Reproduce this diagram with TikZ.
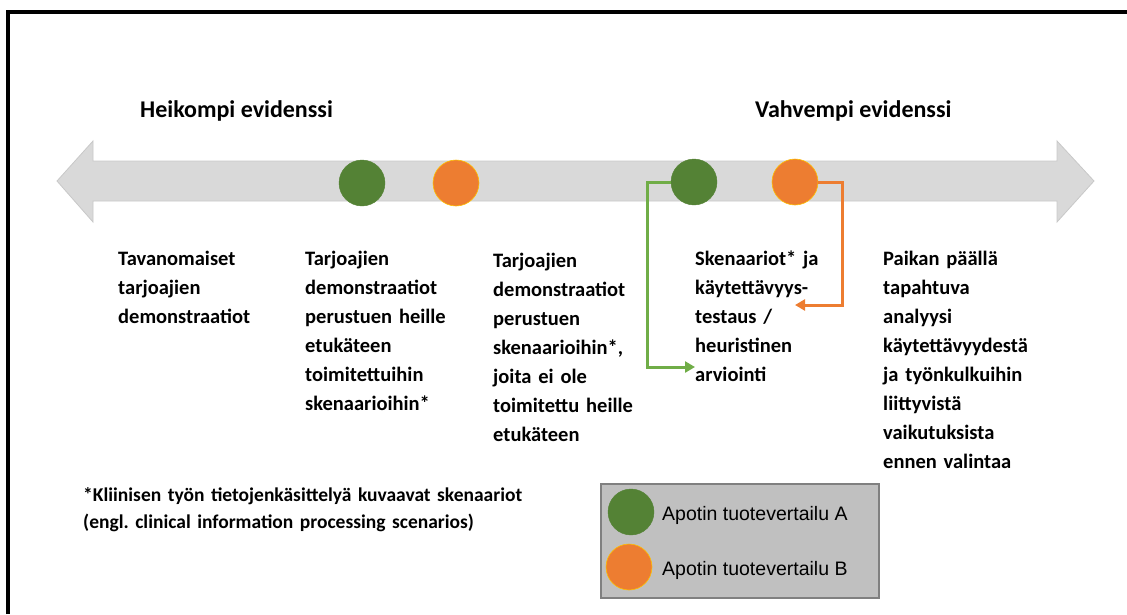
\documentclass[tikz,border=0pt]{standalone}
\usepackage{fontspec}
\setmainfont{Carlito}[WordSpace={1,0,0}]
\newfontfamily\legendfont{Liberation Sans}
\usetikzlibrary{arrows.meta}
\frenchspacing
\definecolor{arrowgray}{HTML}{D9D9D9}
\definecolor{arrowedge}{HTML}{C8C8C8}
\definecolor{dotgreen}{HTML}{548235}
\definecolor{dotorange}{HTML}{ED7D31}
\definecolor{dotrim}{HTML}{FFC000}
\definecolor{linkgreen}{HTML}{70AD47}
\definecolor{legendfill}{HTML}{C0C0C0}
\definecolor{legendedge}{HTML}{808080}
\tikzset{
  greendot/.style={circle, fill=dotgreen, draw=dotgreen, minimum size=46pt, inner sep=0pt},
  orangedot/.style={circle, fill=dotorange, draw=dotrim, line width=0.6pt, minimum size=46pt, inner sep=0pt},
  coltext/.style={anchor=base west, inner sep=0pt, text width=200pt, align=left,
    font=\fontsize{20.5}{29}\selectfont\bfseries},
  foottext/.style={anchor=base west, inner sep=0pt, text width=500pt, align=left,
    font=\fontsize{19.5}{27}\selectfont\bfseries},
  titletext/.style={anchor=base west, inner sep=0pt, font=\fontsize{24}{28}\selectfont\bfseries},
  legtext/.style={anchor=west, inner sep=0pt, font=\legendfont\fontsize{19.5}{22}\selectfont},
  greenlink/.style={draw=linkgreen, line width=3pt, -{Triangle[length=10pt,width=11pt]}},
  orangelink/.style={draw=dotorange, line width=3pt, -{Triangle[length=10pt,width=11pt]}},
}
\begin{document}
\begin{tikzpicture}[x=1pt,y=-1pt]
\useasboundingbox (0,0) rectangle (1127,614);
% frame
\draw[line width=3.5pt, black] (8,614) -- (8,12) -- (1127,12);
% titles
\node[titletext] (weak) at (140,117) {Heikompi evidenssi};
\node[titletext] (strong) at (755,117) {Vahvempi evidenssi};
% double arrow
\filldraw[fill=arrowgray, draw=arrowedge, line width=0.8pt]
  (57,181) -- (93,141) -- (93,161) -- (1057,161) -- (1057,141) -- (1094,181)
  -- (1057,222) -- (1057,201) -- (93,201) -- (93,222) -- cycle;
% dots
\node[greendot] (g1) at (362,183) {};
\node[orangedot] (o1) at (456,183) {};
\node[greendot] (g2) at (694,182) {};
\node[orangedot] (o2) at (795,182) {};
% column texts
\node[coltext] (c1) at (118,265) {Tavanomaiset\\tarjoajien\\demonstraatiot};
\node[coltext] (c2) at (305,265) {Tarjoajien\\demonstraatiot\\perustuen heille\\etukäteen\\toimitettuihin\\skenaarioihin*};
\node[coltext] (c3) at (493,267) {Tarjoajien\\demonstraatiot\\perustuen\\skenaarioihin*,\\joita ei ole\\toimitettu heille\\etukäteen};
\node[coltext] (c4) at (695,265) {Skenaariot* ja\\käytettävyys-\\testaus /\\heuristinen\\arviointi};
\node[coltext] (c5) at (883,265) {Paikan päällä\\tapahtuva\\analyysi\\käytettävyydestä\\ja työnkulkuihin\\liittyvistä\\vaikutuksista\\ennen valintaa};
% connectors
\coordinate (gend) at (695,367);
\coordinate (oend) at (795,305);
\draw[greenlink] (g2.west) -- (647,182) -- (647,367) -- (gend);
\draw[orangelink] (o2.east) -- (842,182) -- (842,305) -- (oend);
% footnote
\node[foottext] (foot) at (83,501) {*Kliinisen työn tietojenkäsittelyä kuvaavat skenaariot\\(engl. clinical information processing scenarios)};
% legend
\node[draw=legendedge, fill=legendfill, line width=1.5pt, minimum width=278pt, minimum height=114pt, inner sep=0pt, anchor=north west] (legend) at (600,483) {};
\node[greendot] (lg) at (631,512) {};
\node[orangedot] (lo) at (629,567) {};
\node[legtext] (la) at (662,515) {Apotin tuotevertailu A};
\node[legtext] (lb) at (662,570) {Apotin tuotevertailu B};
\end{tikzpicture}
\end{document}
